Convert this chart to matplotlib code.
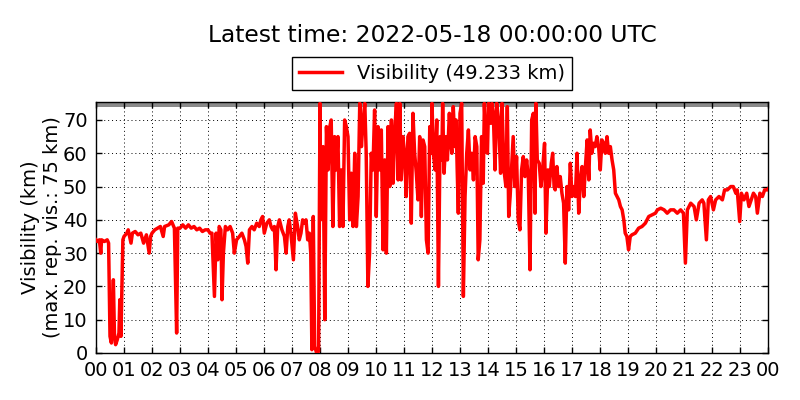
import matplotlib
matplotlib.use("Agg")
import matplotlib.pyplot as plt
import numpy as np

# time in decimal hours since 2022-05-17 00:00 UTC
times_h = [
    0.00, 0.05, 0.12, 0.17, 0.20, 0.30, 0.40, 0.45, 0.50, 0.55, 0.62, 0.66, 0.70, 0.76, 0.82, 0.85, 0.89, 0.96,
    1.00, 1.10, 1.15, 1.25, 1.30, 1.40, 1.50, 1.60, 1.70, 1.80, 1.90, 1.95,
    2.00, 2.10, 2.20, 2.30, 2.40, 2.45, 2.60, 2.70, 2.80, 2.88, 2.92,
    3.00, 3.10, 3.20, 3.30, 3.40, 3.50, 3.60, 3.70, 3.80, 3.90,
    4.00, 4.07, 4.14, 4.23, 4.29, 4.35, 4.40, 4.46, 4.50, 4.55, 4.62, 4.70, 4.79, 4.88, 4.94,
    5.02, 5.12, 5.21, 5.30, 5.36, 5.42, 5.48, 5.57, 5.65, 5.74, 5.83, 5.89, 5.95,
    6.01, 6.10, 6.19, 6.25, 6.31, 6.37, 6.43, 6.49, 6.55, 6.64, 6.73, 6.79, 6.85, 6.90, 6.96,
    7.05, 7.12, 7.20, 7.26, 7.32, 7.38, 7.44, 7.50, 7.56, 7.62, 7.67, 7.71, 7.76, 7.81, 7.88, 7.95,
    8.00, 8.02, 8.05, 8.11, 8.17, 8.23, 8.29, 8.35, 8.40, 8.46, 8.52, 8.58, 8.64, 8.70, 8.76, 8.82, 8.88, 8.94,
    9.00, 9.06, 9.12, 9.18, 9.24, 9.30, 9.36, 9.42, 9.48, 9.54, 9.60, 9.65, 9.71, 9.77, 9.83, 9.89, 9.95,
    10.01, 10.07, 10.13, 10.19, 10.25, 10.31, 10.37, 10.43, 10.49, 10.55, 10.61, 10.67, 10.73, 10.79, 10.85, 10.90, 10.96,
    11.02, 11.08, 11.14, 11.20, 11.26, 11.32, 11.38, 11.44, 11.50, 11.56, 11.62, 11.68, 11.74, 11.80, 11.86, 11.92, 11.98,
    12.00, 12.05, 12.11, 12.17, 12.23, 12.29, 12.35, 12.38, 12.43, 12.50, 12.55, 12.62, 12.67, 12.71, 12.76, 12.82, 12.86, 12.90, 12.94,
    13.00, 13.06, 13.12, 13.18, 13.24, 13.30, 13.36, 13.42, 13.48, 13.54, 13.60, 13.65, 13.71, 13.77, 13.83, 13.87, 13.93, 13.98,
    14.02, 14.10, 14.14, 14.19, 14.25, 14.31, 14.38, 14.45, 14.50, 14.57, 14.64, 14.69, 14.74, 14.79, 14.85, 14.90, 14.96,
    15.02, 15.08, 15.14, 15.20, 15.26, 15.32, 15.38, 15.44, 15.50, 15.56, 15.62, 15.68, 15.71, 15.76, 15.83, 15.89, 15.95,
    16.02, 16.07, 16.14, 16.19, 16.26, 16.31, 16.36, 16.40, 16.46, 16.52, 16.58, 16.64, 16.70, 16.76, 16.82, 16.88, 16.94,
    17.00, 17.06, 17.12, 17.18, 17.24, 17.30, 17.36, 17.42, 17.48, 17.54, 17.60, 17.65, 17.71, 17.77, 17.83, 17.89, 17.95,
    18.01, 18.07, 18.13, 18.19, 18.25, 18.31, 18.37, 18.43, 18.49, 18.55, 18.61, 18.67, 18.73, 18.79, 18.85, 18.90, 18.96,
    19.02, 19.08, 19.14, 19.26, 19.38, 19.50, 19.62, 19.74, 19.86, 19.98,
    20.05, 20.17, 20.29, 20.40, 20.52, 20.64, 20.76, 20.88, 20.98,
    21.05, 21.12, 21.24, 21.36, 21.44, 21.54, 21.65, 21.71, 21.80, 21.87, 21.95,
    22.05, 22.13, 22.25, 22.37, 22.45, 22.55, 22.67, 22.76, 22.85, 22.90, 22.99,
    23.05, 23.14, 23.24, 23.32, 23.40, 23.48, 23.56, 23.62, 23.71, 23.80, 23.88, 23.98, 24.00,
]

vis_km = [
    34, 33.5, 34, 30, 34, 33.5, 34, 33, 5, 3, 22, 5, 2.5, 4, 6, 16, 5, 34,
    35, 36, 37, 33, 36, 36.5, 35.5, 36, 33, 35.5, 30, 35,
    36, 37, 37.5, 38, 35, 38, 38.5, 39.5, 37.5, 6, 37.5,
    37.5, 38.5, 37.5, 38.5, 37.5, 38, 37, 37.5, 36.5, 37,
    37, 36, 36, 17, 36, 28, 38, 37, 16, 30, 38, 37, 38, 36, 30,
    34, 35, 36, 34, 32, 27, 37, 38, 37, 39, 38, 40, 41,
    36, 39, 40, 38, 37, 38, 25, 38, 40, 37, 35, 30, 38, 40, 36,
    28, 42, 38, 34, 36, 40, 39, 40, 34, 36, 30, 1, 41, 2, 0, 0.5,
    75, 40, 61, 62, 10, 68, 55, 68, 70, 38, 65, 55, 65, 38, 55, 38, 70, 68,
    65, 40, 54, 38, 60, 38, 47, 75, 62, 70, 75, 60, 20, 30, 60, 55, 73,
    41, 68, 55, 67, 31, 58, 30, 68, 50, 70, 51, 67, 75, 52, 75, 52, 65,
    60, 47, 65, 66, 39, 72, 60, 54, 46, 65, 41, 64, 62, 34, 30, 68, 60,
    75, 60, 55, 70, 20, 65, 58, 75, 54, 65, 58, 72, 63, 60, 74, 62, 70, 55, 42,
    72, 75, 17, 47, 60, 67, 55, 60, 52, 65, 62, 28, 34, 65, 51, 75, 62, 60,
    75, 69, 75, 72, 55, 75, 70, 54, 75, 55, 50, 74, 41, 47, 57, 65, 50,
    59, 40, 37, 55, 59, 53, 58, 53, 25, 70, 72, 42, 75, 58, 57, 50, 55,
    63, 36, 55, 50, 57, 60, 50, 49, 56, 50, 53, 48, 45, 27, 50, 43, 57,
    47, 50, 47, 60, 42, 52, 56, 47, 56, 64, 52, 67, 60, 63, 62, 65, 62,
    55, 64, 63, 60, 65, 60, 62, 58, 55, 48, 47, 46, 44, 43, 40, 36, 35,
    31, 35, 35.5, 36, 37.5, 38, 39, 41, 41.5, 42,
    43, 43.5, 43, 42, 43, 43, 42, 43, 42,
    27, 43, 45, 44, 40, 45, 46, 45, 34, 46, 47,
    43, 46, 47, 46, 49, 49, 50, 50, 48, 49, 39.5,
    48, 46, 48, 44, 46, 48, 47, 42, 48, 47, 49, 49, 49.233,
]

hour_labels = ["%02d" % (h % 24) for h in range(25)]
y_ticks = [0, 10, 20, 30, 40, 50, 60, 70]
max_rep_vis = 75
latest_value = 49.233

plt.rcParams['font.family'] = ['DejaVu Sans']
fig = plt.figure(figsize=(8, 4), dpi=100)
ax = fig.add_axes([0.12, 0.1175, 0.84, 0.6275])

ax.axhspan(74.0, 75.2, color='#8a8a8a', lw=0, zorder=1)
ax.plot(times_h, vis_km, color='red', lw=2.5, zorder=3,
        label='Visibility (%.3f km)' % latest_value)

ax.set_xlim(0, 24)
ax.set_ylim(0, 75.4)
ax.set_xticks(range(25))
ax.set_xticklabels(hour_labels, fontsize=14)
ax.set_yticks(y_ticks)
ax.set_yticklabels([str(v) for v in y_ticks], fontsize=14)
ax.tick_params(direction='in', top=True, right=True, length=4, width=1, pad=6)
ax.grid(True, color='k', linestyle=(0, (1, 3)), linewidth=0.7)
for s in ax.spines.values():
    s.set_linewidth(1)
ax.set_ylabel('Visibility (km)\n(max. rep. vis.: %d km)' % max_rep_vis, fontsize=14,
              labelpad=1)

ax.set_title('Latest time: 2022-05-18 00:00:00 UTC', fontsize=16.8, pad=43)
leg = ax.legend(loc='lower center', bbox_to_anchor=(0.5, 1.01), fontsize=14,
                fancybox=False, edgecolor='k', framealpha=1, handlelength=2.2,
                borderpad=0.35)
leg.get_frame().set_linewidth(1)

fig.savefig('out.png', dpi=100)
